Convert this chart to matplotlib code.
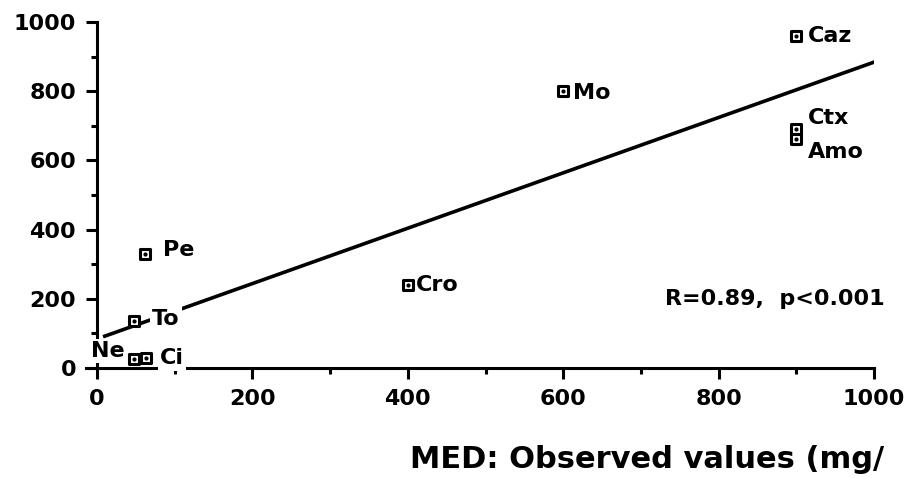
import numpy as np
import matplotlib.pyplot as plt
from matplotlib.ticker import MultipleLocator

# drugs: observed (x) vs predicted (y), mg/l
names = ["Caz", "Mo", "Ctx", "Amo", "Pe", "Cro", "To", "Ne", "Ci"]
observed = [900, 600, 900, 900, 62, 400, 48, 48, 63]
predicted = [960, 800, 690, 663, 330, 240, 135, 25, 28]

# regression line
fit_x = [10, 1000]
slope, intercept = 0.80, 84

# label offsets in points (dx, dy), horizontal alignment
label_pos = {
    "Caz": (8, 0, "left"), "Mo": (7, -1, "left"), "Ctx": (8, 8, "left"),
    "Amo": (8, -10, "left"), "Pe": (13, 3, "left"), "Cro": (6, 0, "left"),
    "To": (13, 2, "left"), "Ne": (-7, 6, "right"), "Ci": (10, 0, "left"),
}

plt.rcParams['font.family'] = 'DejaVu Sans'
plt.rcParams['font.weight'] = 'bold'

fig = plt.figure(figsize=(9.08, 4.79), dpi=100)
ax = fig.add_axes([97/908, 1 - 368/479, (874-97)/908, (368-22)/479])
ax.set_xlim(0, 1000)
ax.set_ylim(0, 1000)

for s in ["top", "right", "bottom"]:
    ax.spines[s].set_visible(False)
ax.spines["left"].set_linewidth(2.2)
ax.plot([-14, 1000], [0, 0], color="black", lw=2.2, clip_on=False, zorder=2)

ax.xaxis.set_major_locator(MultipleLocator(200))
ax.xaxis.set_minor_locator(MultipleLocator(100))
ax.yaxis.set_major_locator(MultipleLocator(200))
ax.yaxis.set_minor_locator(MultipleLocator(100))
ax.tick_params(which="major", length=8, width=2.2, labelsize=16, pad=7)
ax.tick_params(which="minor", length=4, width=2.2)
for lab in ax.get_xticklabels() + ax.get_yticklabels():
    lab.set_fontweight("bold")

xs = np.array(fit_x)
ax.plot(xs, intercept + slope * xs, color="black", lw=2.6, zorder=2)

ax.scatter(observed, predicted, marker="s", s=55, facecolor="white",
           edgecolor="black", linewidths=2.2, zorder=4, clip_on=False)
ax.scatter(observed, predicted, marker="o", s=4, color="black", zorder=5,
           clip_on=False)

for n, x, y in zip(names, observed, predicted):
    dx, dy, ha = label_pos[n]
    ax.annotate(n, (x, y), xytext=(dx, dy), textcoords="offset points",
                ha=ha, va="center", fontsize=16, fontweight="bold", zorder=3,
                bbox=dict(boxstyle="square,pad=0.1", fc="white", ec="none"))

ax.text(1014, 200, "R=0.89,  p<0.001", ha="right", va="center",
        fontsize=16, fontweight="bold")

fig.text(410/908, 1 - 460/479, "MED: Observed values (mg/", ha="left",
         va="center", fontsize=22, fontweight="bold")

fig.savefig("out.png", dpi=100)
